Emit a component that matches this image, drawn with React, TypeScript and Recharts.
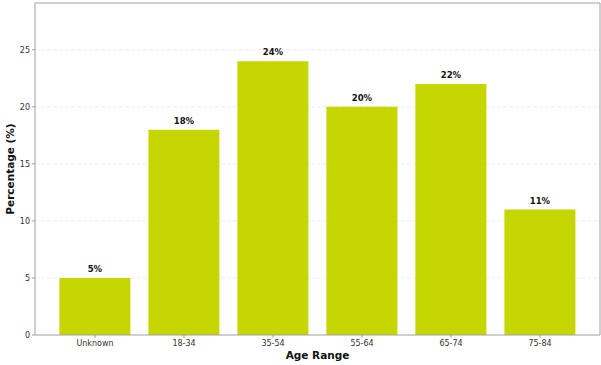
import React from 'react';
import { BarChart, Bar, XAxis, YAxis, CartesianGrid, LabelList, Label } from 'recharts';

const ageRanges = ['Unknown', '18-34', '35-54', '55-64', '65-74', '75-84'];
const percentages = [5, 18, 24, 20, 22, 11];
const yTicks = [0, 5, 10, 15, 20, 25];

const data = ageRanges.map((range, i) => ({ range, pct: percentages[i] }));

const FONT = '"DejaVu Sans", sans-serif';
const AXIS = '#a0a0a0';

export default function App() {
    return (
        <div style={{ position: 'fixed', top: 0, left: 0, width: 601, height: 365, background: '#fff' }}>
            <BarChart
                width={601}
                height={365}
                data={data}
                margin={{ top: 2, right: 0, bottom: 0, left: 0 }}
                barCategoryGap="10%"
            >
                <CartesianGrid vertical={false} stroke="#ececec" strokeDasharray="4 2" horizontalValues={yTicks.slice(1)} />
                <XAxis
                    dataKey="range"
                    height={30}
                    padding={{ left: 15.5, right: 15.5 }}
                    stroke={AXIS}
                    tickSize={3}
                    tick={{ fill: '#333', fontSize: 8, fontFamily: FONT }}
                >
                    <Label value="Age Range" position="insideBottom" offset={6} style={{ fill: '#111', fontSize: 10.5, fontWeight: 'bold', fontFamily: FONT }} />
                </XAxis>
                <XAxis xAxisId="top" orientation="top" dataKey="range" height={1} tick={false} tickLine={false} stroke={AXIS} />
                <YAxis
                    width={35}
                    domain={[0, 29.1]}
                    ticks={yTicks}
                    stroke={AXIS}
                    tickSize={3}
                    tick={{ fill: '#333', fontSize: 8, fontFamily: FONT }}
                >
                    <Label value="Percentage (%)" angle={-90} position="insideLeft" offset={10} style={{ fill: '#111', fontSize: 10.5, fontWeight: 'bold', fontFamily: FONT, textAnchor: 'middle' }} />
                </YAxis>
                <YAxis yAxisId="right" orientation="right" width={1} tick={false} tickLine={false} stroke={AXIS} />
                <Bar dataKey="pct" fill="#c5d600" isAnimationActive={false}>
                    <LabelList
                        dataKey="pct"
                        position="top"
                        offset={6}
                        formatter={(v: any) => `${v}%`}
                        style={{ fill: '#111', fontSize: 8.5, fontWeight: 'bold', fontFamily: FONT }}
                    />
                </Bar>
                <Bar dataKey="pct" xAxisId="top" yAxisId="right" fill="none" legendType="none" isAnimationActive={false} />
            </BarChart>
        </div>
    );
}
